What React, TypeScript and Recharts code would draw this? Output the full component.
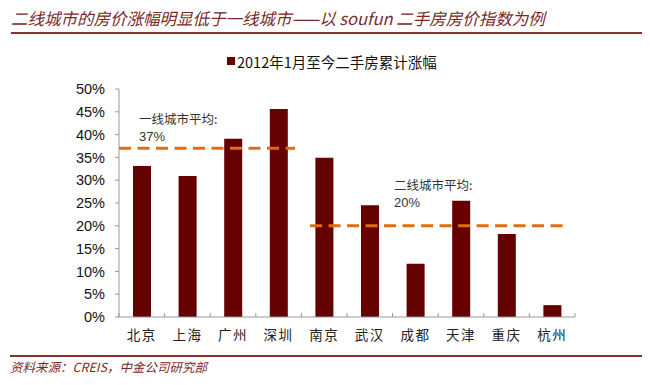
import { BarChart, Bar, XAxis, YAxis, ReferenceLine } from 'recharts'

const cities = ['北京', '上海', '广州', '深圳', '南京', '武汉', '成都', '天津', '重庆', '杭州']
const growth = [33.1, 30.9, 39.1, 45.6, 34.9, 24.5, 11.7, 25.5, 18.2, 2.6]
const yTicks = [0, 5, 10, 15, 20, 25, 30, 35, 40, 45, 50]
const slotTicks = [0, 1, 2, 3, 4, 5, 6, 7, 8, 9, 10]

// averages and the slot span each dashed line covers
const tier1Avg = 37
const tier1Span = [0, 3.86]
const tier2Avg = 20
const tier2Span = [4.19, 9.85]

const data = cities.map((city, i) => ({ city, slot: i + 0.5, growth: growth[i] }))

const CJK = '"Noto Sans CJK SC", "Liberation Sans", sans-serif'
const LATIN = '"Liberation Sans", Arial, sans-serif'
const BAR = '#650000'
const ORANGE = '#E46C0A'
const BROWN = '#7A2A2A'

const NoLabel = () => <g />

const note = { position: 'absolute' as const, lineHeight: '16px', color: '#333', whiteSpace: 'nowrap' as const }

export default function App() {
  return (
    <div style={{ position: 'absolute', left: 0, top: 0, width: 650, height: 385, background: '#fff', fontFamily: CJK }}>
      <div style={{ position: 'absolute', left: 11, top: 7, lineHeight: '22px', fontSize: 16.5, fontStyle: 'italic', color: BROWN, whiteSpace: 'nowrap' }}>
        二线城市的房价涨幅明显低于一线城市——以 soufun 二手房房价指数为例
      </div>
      <div style={{ position: 'absolute', left: 11, top: 32, width: 631, height: 2, background: '#8B2F2F' }} />

      <BarChart width={650} height={385} data={data} margin={{ top: 89, right: 75, bottom: 38, left: 59 }}>
        <XAxis
          xAxisId="num"
          dataKey="slot"
          type="number"
          domain={[0, 10]}
          allowDataOverflow
          ticks={slotTicks}
          interval={0}
          tick={NoLabel}
          mirror
          tickSize={4}
          stroke="#999"
        />
        <XAxis
          xAxisId="cat"
          dataKey="city"
          height={30}
          axisLine={false}
          tickLine={false}
          tickMargin={7}
          interval={0}
          tick={{ fill: '#222', fontSize: 13.5, fontFamily: CJK, letterSpacing: 1.5 }}
        />
        <YAxis
          width={60}
          domain={[0, 50]}
          ticks={yTicks}
          interval={0}
          tickFormatter={(v) => `${v}%`}
          tickSize={4}
          tickMargin={10}
          stroke="#999"
          tick={{ fill: '#111', fontSize: 14.5, fontFamily: LATIN }}
        />
        <Bar xAxisId="cat" dataKey="growth" fill={BAR} barSize={18} isAnimationActive={false} />
        <ReferenceLine
          xAxisId="num"
          segment={[{ x: tier1Span[0], y: tier1Avg }, { x: tier1Span[1], y: tier1Avg }]}
          stroke={ORANGE}
          strokeWidth={3}
          strokeDasharray="12 6.5"
          ifOverflow="visible"
        />
        <ReferenceLine
          xAxisId="num"
          segment={[{ x: tier2Span[0], y: tier2Avg }, { x: tier2Span[1], y: tier2Avg }]}
          stroke={ORANGE}
          strokeWidth={3}
          strokeDasharray="12 6.5"
          ifOverflow="visible"
        />
      </BarChart>

      <div style={{ position: 'absolute', left: 227, top: 57, width: 8, height: 8, background: BAR }} />
      <div style={{ position: 'absolute', left: 237, top: 52, lineHeight: '20px', fontSize: 14.5, color: '#111', whiteSpace: 'nowrap' }}>
        2012年1月至今二手房累计涨幅
      </div>

      <div style={{ ...note, left: 139, top: 111, fontSize: 12.5 }}>一线城市平均:</div>
      <div style={{ ...note, left: 139, top: 129, fontSize: 13, fontFamily: LATIN }}>{tier1Avg}%</div>
      <div style={{ ...note, left: 394, top: 177, fontSize: 12.5 }}>二线城市平均:</div>
      <div style={{ ...note, left: 394, top: 195, fontSize: 13, fontFamily: LATIN }}>{tier2Avg}%</div>

      <div style={{ position: 'absolute', left: 10, top: 355, width: 632, height: 2, background: '#8B2F2F' }} />
      <div style={{ position: 'absolute', left: 10, top: 358, lineHeight: '18px', fontSize: 12.5, fontStyle: 'italic', color: BROWN, whiteSpace: 'nowrap' }}>
        资料来源：CREIS，中金公司研究部
      </div>
    </div>
  )
}
